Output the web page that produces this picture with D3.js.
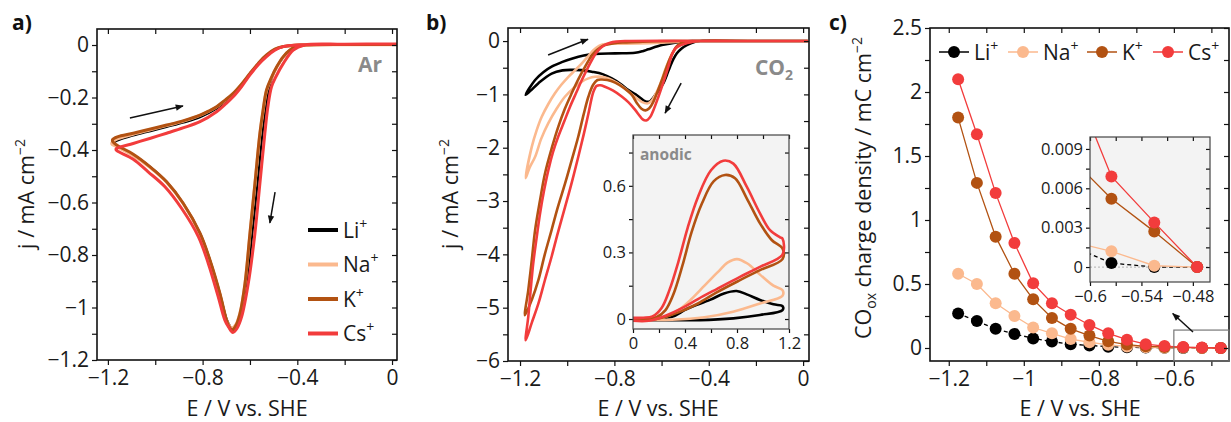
<!DOCTYPE html>
<html>
<head>
<meta charset="utf-8">
<script src="https://cdn.jsdelivr.net/npm/d3@7.9.0/dist/d3.min.js"></script>
<style>
  body { margin: 0; background: #fff; }
  svg { display: block; font-family: "Open Sans", sans-serif; }
</style>
</head>
<body>
<svg id="fig" width="1231" height="422"></svg>
<script>
const ions = ["Li", "Na", "K", "Cs"];
const ionColor = { Li: "#000000", Na: "#fbb98e", K: "#b25212", Cs: "#f23c3c" };

// a) CV under Ar, [E / V, j / mA cm-2] around the loop (cathodic then back)
const arLi = [[0.02,0.002],[-0.2,0.002],[-0.365,0],[-0.41,-0.01],[-0.44,-0.025],[-0.47,-0.06],[-0.497,-0.1],[-0.518,-0.16],[-0.535,-0.25],[-0.547,-0.336],[-0.568,-0.527],[-0.59,-0.717],[-0.613,-0.908],[-0.635,-1.02],[-0.655,-1.075],[-0.668,-1.09],[-0.685,-1.07],[-0.70,-1.04],[-0.727,-0.946],[-0.769,-0.819],[-0.811,-0.717],[-0.882,-0.603],[-0.952,-0.521],[-1.023,-0.463],[-1.093,-0.418],[-1.165,-0.383],[-1.172,-0.378],
  [-1.172,-0.37],[-1.093,-0.345],[-1.02,-0.328],[-0.952,-0.312],[-0.88,-0.295],[-0.811,-0.275],[-0.741,-0.242],[-0.705,-0.218],[-0.671,-0.19],[-0.635,-0.152],[-0.60,-0.11],[-0.565,-0.072],[-0.53,-0.04],[-0.495,-0.017],[-0.459,-0.006],[-0.389,0],[-0.2,0.002],[0.02,0.002]];
const arNa = [[0.02,0.001],[-0.2,0.001],[-0.36,0],[-0.40,-0.006],[-0.431,-0.02],[-0.46,-0.046],[-0.487,-0.085],[-0.51,-0.128],[-0.53,-0.175],[-0.545,-0.255],[-0.558,-0.34],[-0.579,-0.53],[-0.60,-0.72],[-0.621,-0.91],[-0.642,-1.02],[-0.66,-1.065],[-0.678,-1.078],[-0.692,-1.062],[-0.703,-1.04],[-0.73,-0.94],[-0.772,-0.815],[-0.814,-0.714],[-0.885,-0.6],[-0.955,-0.52],[-1.026,-0.464],[-1.096,-0.42],[-1.166,-0.386],[-1.183,-0.378],
  [-1.183,-0.372],[-1.16,-0.358],[-1.093,-0.34],[-1.02,-0.323],[-0.952,-0.307],[-0.88,-0.29],[-0.811,-0.268],[-0.775,-0.253],[-0.741,-0.236],[-0.705,-0.212],[-0.671,-0.186],[-0.635,-0.15],[-0.60,-0.11],[-0.565,-0.072],[-0.53,-0.04],[-0.495,-0.017],[-0.459,-0.006],[-0.389,0],[-0.2,0.001],[0.02,0.001]];
const arK = [[0.02,0.002],[-0.2,0.002],[-0.36,0],[-0.40,-0.005],[-0.431,-0.019],[-0.46,-0.045],[-0.487,-0.083],[-0.51,-0.125],[-0.53,-0.171],[-0.545,-0.25],[-0.558,-0.336],[-0.579,-0.527],[-0.60,-0.717],[-0.621,-0.908],[-0.642,-1.022],[-0.66,-1.07],[-0.675,-1.085],[-0.69,-1.07],[-0.70,-1.045],[-0.727,-0.946],[-0.769,-0.819],[-0.811,-0.717],[-0.882,-0.603],[-0.952,-0.521],[-1.023,-0.463],[-1.093,-0.416],[-1.163,-0.381],[-1.18,-0.367],
  [-1.18,-0.36],[-1.16,-0.35],[-1.093,-0.336],[-1.02,-0.32],[-0.952,-0.305],[-0.88,-0.288],[-0.811,-0.267],[-0.775,-0.252],[-0.741,-0.235],[-0.705,-0.21],[-0.671,-0.184],[-0.635,-0.148],[-0.60,-0.108],[-0.565,-0.07],[-0.53,-0.038],[-0.495,-0.016],[-0.459,-0.006],[-0.389,0],[-0.2,0.002],[0.02,0.002]];
const arCs = [[0.02,0.004],[-0.2,0.003],[-0.37,0],[-0.417,-0.019],[-0.459,-0.07],[-0.49,-0.12],[-0.509,-0.159],[-0.525,-0.24],[-0.537,-0.336],[-0.558,-0.527],[-0.579,-0.717],[-0.607,-0.908],[-0.635,-1.035],[-0.655,-1.08],[-0.672,-1.095],[-0.69,-1.075],[-0.706,-1.048],[-0.734,-0.959],[-0.776,-0.832],[-0.818,-0.730],[-0.889,-0.622],[-0.959,-0.540],[-1.030,-0.483],[-1.093,-0.435],[-1.156,-0.406],[-1.165,-0.40],
  [-1.165,-0.395],[-1.093,-0.375],[-1.02,-0.355],[-0.952,-0.336],[-0.88,-0.315],[-0.811,-0.292],[-0.741,-0.254],[-0.705,-0.226],[-0.671,-0.197],[-0.635,-0.158],[-0.60,-0.114],[-0.565,-0.075],[-0.53,-0.044],[-0.495,-0.02],[-0.46,-0.006],[-0.40,0],[-0.2,0.003],[0.02,0.004]];

// b) CV under CO2
const co2Li = [[0.02,0],[-0.2,0],[-0.437,0],[-0.47,-0.03],[-0.493,-0.075],[-0.515,-0.14],[-0.535,-0.23],[-0.55,-0.34],[-0.564,-0.48],[-0.578,-0.64],[-0.592,-0.79],[-0.62,-0.97],[-0.649,-1.13],[-0.663,-1.14],[-0.677,-1.11],[-0.71,-1.0],[-0.74,-0.92],[-0.775,-0.8],[-0.811,-0.70],[-0.85,-0.62],[-0.896,-0.575],[-0.94,-0.545],[-0.981,-0.54],[-1.02,-0.55],[-1.066,-0.61],[-1.122,-0.79],[-1.155,-0.93],[-1.176,-1.01],
  [-1.136,-0.73],[-1.1,-0.58],[-1.066,-0.48],[-1.02,-0.39],[-0.981,-0.33],[-0.93,-0.27],[-0.882,-0.24],[-0.797,-0.23],[-0.712,-0.22],[-0.68,-0.19],[-0.656,-0.155],[-0.599,-0.075],[-0.543,-0.03],[-0.47,0],[-0.2,0],[0.02,0]];
const co2Na = [[0.02,0],[-0.2,0],[-0.44,0],[-0.5,-0.03],[-0.53,-0.1],[-0.55,-0.2],[-0.568,-0.36],[-0.585,-0.54],[-0.605,-0.8],[-0.627,-1.01],[-0.645,-1.13],[-0.66,-1.17],[-0.684,-1.14],[-0.72,-1.02],[-0.755,-0.89],[-0.79,-0.78],[-0.825,-0.70],[-0.855,-0.67],[-0.882,-0.67],[-0.91,-0.7],[-0.938,-0.76],[-0.97,-0.87],[-1.009,-1.04],[-1.045,-1.27],[-1.08,-1.54],[-1.11,-1.83],[-1.136,-2.17],[-1.16,-2.38],[-1.176,-2.57],
  [-1.15,-1.98],[-1.13,-1.68],[-1.108,-1.42],[-1.08,-1.18],[-1.052,-0.98],[-1.025,-0.82],[-0.995,-0.67],[-0.965,-0.54],[-0.938,-0.42],[-0.91,-0.28],[-0.889,-0.17],[-0.865,-0.09],[-0.847,-0.06],[-0.8,-0.05],[-0.7,-0.045],[-0.6,-0.03],[-0.52,-0.01],[-0.45,0],[-0.2,0],[0.02,0]];
const co2K = [[0.02,0],[-0.2,0],[-0.45,0],[-0.5,-0.02],[-0.52,-0.05],[-0.538,-0.11],[-0.55,-0.2],[-0.565,-0.33],[-0.578,-0.48],[-0.6,-0.75],[-0.62,-0.98],[-0.635,-1.14],[-0.652,-1.26],[-0.668,-1.3],[-0.685,-1.27],[-0.705,-1.16],[-0.726,-1.01],[-0.76,-0.88],[-0.797,-0.78],[-0.83,-0.73],[-0.854,-0.72],[-0.872,-0.73],[-0.89,-0.82],[-0.91,-1.04],[-0.93,-1.37],[-0.953,-1.79],[-0.98,-2.22],[-1.009,-2.67],[-1.04,-3.12],[-1.066,-3.54],[-1.095,-4.0],[-1.122,-4.48],[-1.15,-4.85],[-1.179,-5.14],
  [-1.165,-4.67],[-1.15,-4.1],[-1.136,-3.54],[-1.115,-2.98],[-1.094,-2.48],[-1.065,-2.0],[-1.038,-1.61],[-1.01,-1.27],[-0.981,-0.98],[-0.952,-0.71],[-0.924,-0.48],[-0.9,-0.3],[-0.882,-0.2],[-0.86,-0.12],[-0.84,-0.075],[-0.8,-0.04],[-0.75,-0.025],[-0.68,-0.01],[-0.55,0],[-0.2,0],[0.02,0]];
const co2Cs = [[0.02,0],[-0.2,0],[-0.437,0],[-0.47,-0.015],[-0.493,-0.04],[-0.521,-0.08],[-0.54,-0.13],[-0.555,-0.24],[-0.571,-0.48],[-0.592,-0.77],[-0.613,-1.04],[-0.635,-1.3],[-0.649,-1.43],[-0.665,-1.49],[-0.68,-1.47],[-0.695,-1.39],[-0.712,-1.29],[-0.74,-1.15],[-0.769,-1.04],[-0.805,-0.93],[-0.84,-0.857],[-0.86,-0.83],[-0.875,-0.84],[-0.889,-0.95],[-0.91,-1.36],[-0.93,-1.75],[-0.953,-2.17],[-0.98,-2.64],[-1.009,-3.11],[-1.04,-3.6],[-1.066,-4.04],[-1.095,-4.49],[-1.122,-4.92],[-1.15,-5.28],[-1.176,-5.61],
  [-1.165,-5.17],[-1.155,-4.67],[-1.144,-4.17],[-1.13,-3.7],[-1.115,-3.23],[-1.098,-2.8],[-1.08,-2.42],[-1.06,-2.08],[-1.038,-1.79],[-1.012,-1.5],[-0.988,-1.23],[-0.962,-0.97],[-0.938,-0.73],[-0.915,-0.52],[-0.896,-0.36],[-0.878,-0.23],[-0.861,-0.14],[-0.84,-0.07],[-0.818,-0.03],[-0.79,-0.01],[-0.755,0],[-0.2,0],[0.02,0]];

// b) inset, anodic scan (E / V, j / mA cm-2)
const anLi = [[0,0.003],[0.15,0.003],[0.3,0.01],[0.413,0.045],[0.592,0.086],[0.7,0.115],[0.797,0.126],[0.88,0.11],[0.977,0.086],[1.08,0.066],[1.15,0.058],[1.15,0.04],[0.977,0.018],[0.772,0.003],[0.515,-0.005],[0.2,-0.005],[0,-0.003]];
const anNa = [[0,0.003],[0.15,0.003],[0.25,0.01],[0.35,0.04],[0.45,0.09],[0.55,0.15],[0.65,0.21],[0.73,0.255],[0.8,0.27],[0.88,0.25],[0.977,0.2],[1.08,0.15],[1.15,0.13],[1.15,0.105],[0.977,0.07],[0.77,0.033],[0.55,0.008],[0.3,-0.003],[0,-0.003]];
const anK = [[0,0.003],[0.1,0.003],[0.18,0.008],[0.25,0.04],[0.31,0.11],[0.38,0.24],[0.45,0.39],[0.53,0.52],[0.62,0.62],[0.708,0.649],[0.785,0.634],[0.875,0.544],[0.977,0.431],[1.067,0.356],[1.15,0.318],[1.15,0.27],[0.977,0.22],[0.823,0.175],[0.644,0.12],[0.5,0.07],[0.35,0.03],[0.18,0],[0,-0.003]];
const anCs = [[0,0.005],[0.08,0.006],[0.15,0.012],[0.22,0.05],[0.28,0.13],[0.35,0.26],[0.42,0.41],[0.5,0.55],[0.6,0.67],[0.695,0.713],[0.772,0.70],[0.875,0.596],[0.977,0.476],[1.054,0.40],[1.131,0.368],[1.15,0.362],[1.15,0.29],[0.977,0.235],[0.823,0.19],[0.644,0.135],[0.5,0.09],[0.38,0.05],[0.25,0.015],[0.12,-0.008],[0,-0.008]];

// c) CO oxidation charge vs. hold potential
const holdE = [-1.175,-1.125,-1.075,-1.025,-0.975,-0.925,-0.875,-0.825,-0.775,-0.725,-0.675,-0.625,-0.575,-0.525,-0.475];
const qLi = [0.27,0.21,0.15,0.11,0.075,0.05,0.03,0.02,0.01,0.005,0.003,0.0017,0.0003,0,0];
const qNa = [0.58,0.50,0.35,0.25,0.16,0.115,0.07,0.045,0.025,0.012,0.006,0.002,0.0012,0.0001,0];
const qK  = [1.80,1.29,0.87,0.58,0.38,0.235,0.15,0.097,0.052,0.027,0.013,0.0085,0.0052,0.0027,0];
const qCs = [2.10,1.67,1.21,0.82,0.505,0.35,0.26,0.18,0.115,0.065,0.03,0.015,0.0069,0.0034,0];

const arData = { Li: arLi, Na: arNa, K: arK, Cs: arCs };
const co2Data = { Li: co2Li, Na: co2Na, K: co2K, Cs: co2Cs };
const anData = { Li: anLi, Na: anNa, K: anK, Cs: anCs };
const qData = { Li: qLi, Na: qNa, K: qK, Cs: qCs };

// arrows, in data units
const arArrows = [[[-1.107,-0.278],[-0.883,-0.232]], [[-0.494,-0.56],[-0.516,-0.678]]];
const co2Arrows = [[[-1.081,-0.26],[-0.912,0.035]], [[-0.517,-0.79],[-0.585,-1.35]]];
const zoomArrow = [[-0.549,0.125],[-0.603,0.27]];

const FONT = '"Open Sans", sans-serif';
const svg = d3.select("#fig");
const fmt = (v) => d3.format("~g")(v).replace("-", "\u2212");
const steps = (a, b, s) => d3.range(Math.round((b - a) / s) + 1).map((i) => +(a + i * s).toFixed(5));

svg.append("defs").append("marker")
  .attr("id", "ah").attr("viewBox", "0 0 10 10").attr("refX", 9).attr("refY", 5)
  .attr("markerUnits", "userSpaceOnUse").attr("markerWidth", 10).attr("markerHeight", 8)
  .attr("orient", "auto")
  .append("path").attr("d", "M0,1L10,5L0,9z").attr("fill", "#111");

function axes(g, x, y, o) {
  const [xa, xb] = x.range();
  const [ya, yb] = y.range();
  const lab = (s) => (v) => (Math.abs(v / s - Math.round(v / s)) < 1e-6 ? fmt(v) : "");
  const style = (sel) => {
    sel.select(".domain").remove();
    sel.selectAll("line").attr("stroke", "#111").attr("stroke-width", 1.2);
    sel.selectAll("text").attr("font-size", o.fs).attr("fill", "#1a1a1a").attr("font-family", FONT);
  };
  g.append("g").attr("transform", `translate(0,${ya})`)
    .call(d3.axisBottom(x).tickValues(o.xt).tickFormat(lab(o.xs)).tickSize(o.tk).tickPadding(o.xpad))
    .call(style);
  g.append("g").attr("transform", `translate(0,${yb})`)
    .call(d3.axisBottom(x).tickValues(o.xt).tickFormat("").tickSize(o.tk))
    .call(style);
  g.append("g").attr("transform", `translate(${xa},0)`)
    .call(d3.axisLeft(y).tickValues(o.yt).tickFormat(lab(o.ys)).tickSize(o.tk).tickPadding(o.ypad))
    .call(style);
  g.append("g").attr("transform", `translate(${xb},0)`)
    .call(d3.axisLeft(y).tickValues(o.yt).tickFormat("").tickSize(o.tk))
    .call(style);
  g.append("rect")
    .attr("x", xa).attr("y", yb).attr("width", xb - xa).attr("height", ya - yb)
    .attr("fill", "none").attr("stroke", o.frame || "#111").attr("stroke-width", o.fw || 1.6);
}

function clip(id, x, y) {
  const [xa, xb] = x.range();
  const [ya, yb] = y.range();
  svg.select("defs").append("clipPath").attr("id", id)
    .append("rect").attr("x", xa).attr("y", yb).attr("width", xb - xa).attr("height", ya - yb);
  return `url(#${id})`;
}

function yTitle(px, py, parts, fs) {
  const t = svg.append("text")
    .attr("transform", `translate(${px},${py}) rotate(-90)`)
    .attr("text-anchor", "middle").attr("font-size", fs).attr("fill", "#1a1a1a");
  parts.forEach(([s, k]) => {
    const sp = t.append("tspan").text(s);
    if (k === "sup") sp.attr("font-size", fs * 0.65).attr("dy", -fs * 0.4);
    if (k === "sub") sp.attr("font-size", fs * 0.65).attr("dy", fs * 0.25);
    if (k === "back") sp.attr("dy", -fs * 0.25);
  });
}

function xTitle(px, py, fs) {
  svg.append("text").attr("x", px).attr("y", py).attr("text-anchor", "middle")
    .attr("font-size", fs).attr("fill", "#1a1a1a").text("E / V vs. SHE");
}

function panelLabel(px, py, s) {
  svg.append("text").attr("x", px).attr("y", py).attr("font-size", 21)
    .attr("font-weight", "bold").attr("fill", "#111").text(s);
}

function arrows(list, x, y) {
  list.forEach(([p, q]) => {
    svg.append("line")
      .attr("x1", x(p[0])).attr("y1", y(p[1])).attr("x2", x(q[0])).attr("y2", y(q[1]))
      .attr("stroke", "#111").attr("stroke-width", 1.5).attr("marker-end", "url(#ah)");
  });
}

const cv = (x, y) => d3.line().x((d) => x(d[0])).y((d) => y(d[1])).curve(d3.curveCatmullRom.alpha(0.5));
const TICK = 5;
const TICKFS = 21;
const TITLEFS = 21.5;
const LEGFS = 21;

// ---------- a) Ar ----------
{
  const x = d3.scaleLinear().domain([-1.246, 0.021]).range([97, 397]);
  const y = d3.scaleLinear().domain([-1.2, 0.061]).range([360, 29]);
  const g = svg.append("g");
  const line = cv(x, y);
  const cg = g.append("g").attr("clip-path", clip("clipA", x, y));
  ions.forEach((k) => {
    cg.append("path").attr("d", line(arData[k])).attr("fill", "none")
      .attr("stroke", ionColor[k]).attr("stroke-width", k === "Li" ? 2.2 : 3)
      .attr("stroke-linejoin", "round");
  });
  axes(g, x, y, { xt: steps(-1.2, 0, 0.2), xs: 0.4, yt: steps(-1.2, 0, 0.1), ys: 0.2,
    tk: TICK, fs: TICKFS, xpad: 5, ypad: 3 });
  arrows(arArrows, x, y);

  svg.append("text").attr("x", 382).attr("y", 72).attr("text-anchor", "end")
    .attr("font-size", 21).attr("font-weight", "bold").attr("fill", "#8a8a8a").text("Ar");

  const lg = svg.append("g");
  ions.forEach((k, i) => {
    const ly = 230 + i * 34.5;
    lg.append("line").attr("x1", 308).attr("x2", 338).attr("y1", ly).attr("y2", ly)
      .attr("stroke", ionColor[k]).attr("stroke-width", 4);
    const t = lg.append("text").attr("x", 343).attr("y", ly + 7.5).attr("font-size", LEGFS).attr("fill", "#1a1a1a");
    t.append("tspan").text(k);
    t.append("tspan").attr("font-size", 14).attr("dy", -9).text("+");
  });

  yTitle(34, 194, [["j / mA cm"], ["\u22122", "sup"]], TITLEFS);
  xTitle(247, 416, TITLEFS);
  panelLabel(12, 30, "a)");
}

// ---------- b) CO2 ----------
{
  const x = d3.scaleLinear().domain([-1.251, 0.025]).range([508, 809]);
  const y = d3.scaleLinear().domain([-6, 0.245]).range([361, 28]);
  const g = svg.append("g");
  const line = cv(x, y);
  const cg = g.append("g").attr("clip-path", clip("clipB", x, y));
  ions.forEach((k) => {
    cg.append("path").attr("d", line(co2Data[k])).attr("fill", "none")
      .attr("stroke", ionColor[k]).attr("stroke-width", 2.6).attr("stroke-linejoin", "round");
  });
  axes(g, x, y, { xt: steps(-1.2, 0, 0.2), xs: 0.4, yt: steps(-6, 0, 0.5), ys: 1,
    tk: TICK, fs: TICKFS, xpad: 5, ypad: 3 });
  arrows(co2Arrows, x, y);

  const co = svg.append("text").attr("x", 793).attr("y", 75).attr("text-anchor", "end")
    .attr("font-size", 21).attr("font-weight", "bold").attr("fill", "#8a8a8a");
  co.append("tspan").text("CO");
  co.append("tspan").attr("font-size", 14).attr("dy", 5).text("2");

  // inset
  const ix = d3.scaleLinear().domain([0, 1.2]).range([633, 789]);
  const iy = d3.scaleLinear().domain([-0.045, 0.829]).range([329, 135]);
  const ig = svg.append("g");
  ig.append("rect").attr("x", 633).attr("y", 135).attr("width", 156).attr("height", 194).attr("fill", "#f3f3f3");
  const iline = cv(ix, iy);
  const icg = ig.append("g").attr("clip-path", clip("clipBi", ix, iy));
  ions.forEach((k) => {
    icg.append("path").attr("d", iline(anData[k])).attr("fill", "none")
      .attr("stroke", ionColor[k]).attr("stroke-width", 2.6).attr("stroke-linejoin", "round");
  });
  axes(ig, ix, iy, { xt: steps(0, 1.2, 0.2), xs: 0.4, yt: steps(0, 0.75, 0.15), ys: 0.3,
    tk: 4, fs: 16.5, xpad: 4, ypad: 3, frame: "#444", fw: 1.2 });
  ig.append("text").attr("x", 640).attr("y", 160).attr("font-size", 15.5)
    .attr("font-weight", "bold").attr("fill", "#8a8a8a").text("anodic");

  yTitle(458, 194, [["j / mA cm"], ["\u22122", "sup"]], TITLEFS);
  xTitle(658, 416, TITLEFS);
  panelLabel(426, 30, "b)");
}

// ---------- c) charge ----------
{
  const x = d3.scaleLinear().domain([-1.25, -0.453]).range([930, 1229]);
  const y = d3.scaleLinear().domain([-0.1016, 2.5]).range([361, 28]);
  const g = svg.append("g");
  const cg = g.append("g").attr("clip-path", clip("clipC", x, y));
  const ln = d3.line().x((d) => x(d[0])).y((d) => y(d[1]));
  ions.forEach((k) => {
    const pts = holdE.map((e, i) => [e, qData[k][i]]);
    cg.append("path").attr("d", ln(pts)).attr("fill", "none")
      .attr("stroke", ionColor[k]).attr("stroke-width", 1.3)
      .attr("stroke-dasharray", k === "Li" ? "4,3" : null);
    cg.selectAll(null).data(pts).join("circle")
      .attr("cx", (d) => x(d[0])).attr("cy", (d) => y(d[1])).attr("r", 6)
      .attr("fill", ionColor[k]);
  });
  axes(g, x, y, { xt: steps(-1.2, -0.5, 0.1), xs: 0.2, yt: steps(0, 2.5, 0.25), ys: 0.5,
    tk: TICK, fs: TICKFS, xpad: 5, ypad: 3 });

  // zoom box + arrow
  svg.append("rect").attr("x", x(-0.6)).attr("y", y(0.14))
    .attr("width", x.range()[1] - x(-0.6)).attr("height", y.range()[0] - y(0.14))
    .attr("fill", "none").attr("stroke", "#777").attr("stroke-width", 1.2);
  arrows([zoomArrow], x, y);

  // legend
  const legX = [939, 1008, 1087, 1153];
  ions.forEach((k, i) => {
    const lx = legX[i];
    svg.append("line").attr("x1", lx).attr("x2", lx + 30).attr("y1", 52).attr("y2", 52)
      .attr("stroke", ionColor[k]).attr("stroke-width", 1.5);
    svg.append("circle").attr("cx", lx + 15).attr("cy", 52).attr("r", 6).attr("fill", ionColor[k]);
    const t = svg.append("text").attr("x", lx + 35).attr("y", 59.5).attr("font-size", LEGFS).attr("fill", "#1a1a1a");
    t.append("tspan").text(k);
    t.append("tspan").attr("font-size", 14).attr("dy", -9).text("+");
  });

  // inset
  const ix = d3.scaleLinear().domain([-0.6, -0.46]).range([1090, 1210]);
  const iy = d3.scaleLinear().domain([-0.00114, 0.00991]).range([282, 137]);
  const ig = svg.append("g");
  ig.append("rect").attr("x", 1090).attr("y", 137).attr("width", 120).attr("height", 145).attr("fill", "#f3f3f3");
  const icg = ig.append("g").attr("clip-path", clip("clipCi", ix, iy));
  icg.append("line").attr("x1", 1090).attr("x2", 1210).attr("y1", iy(0)).attr("y2", iy(0))
    .attr("stroke", "#bdbdbd").attr("stroke-width", 1.3).attr("stroke-dasharray", "2,2");
  const iln = d3.line().x((d) => ix(d[0])).y((d) => iy(d[1]));
  ions.forEach((k) => {
    const pts = holdE.map((e, i) => [e, qData[k][i]]);
    icg.append("path").attr("d", iln(pts)).attr("fill", "none")
      .attr("stroke", ionColor[k]).attr("stroke-width", 1.3)
      .attr("stroke-dasharray", k === "Li" ? "4,3" : null);
    icg.selectAll(null).data(pts.filter((d) => d[0] > -0.6)).join("circle")
      .attr("cx", (d) => ix(d[0])).attr("cy", (d) => iy(d[1])).attr("r", 6)
      .attr("fill", ionColor[k]);
  });
  axes(ig, ix, iy, { xt: steps(-0.6, -0.48, 0.03), xs: 0.06, yt: steps(0, 0.009, 0.0015), ys: 0.003,
    tk: 4, fs: 16.5, xpad: 4, ypad: 3, frame: "#444", fw: 1.2 });

  yTitle(871, 188, [["CO"], ["ox", "sub"], [" charge density / mC cm", "back"], ["\u22122", "sup"]], TITLEFS);
  xTitle(1080, 416, TITLEFS);
  panelLabel(829, 30, "c)");
}
</script>
</body>
</html>
